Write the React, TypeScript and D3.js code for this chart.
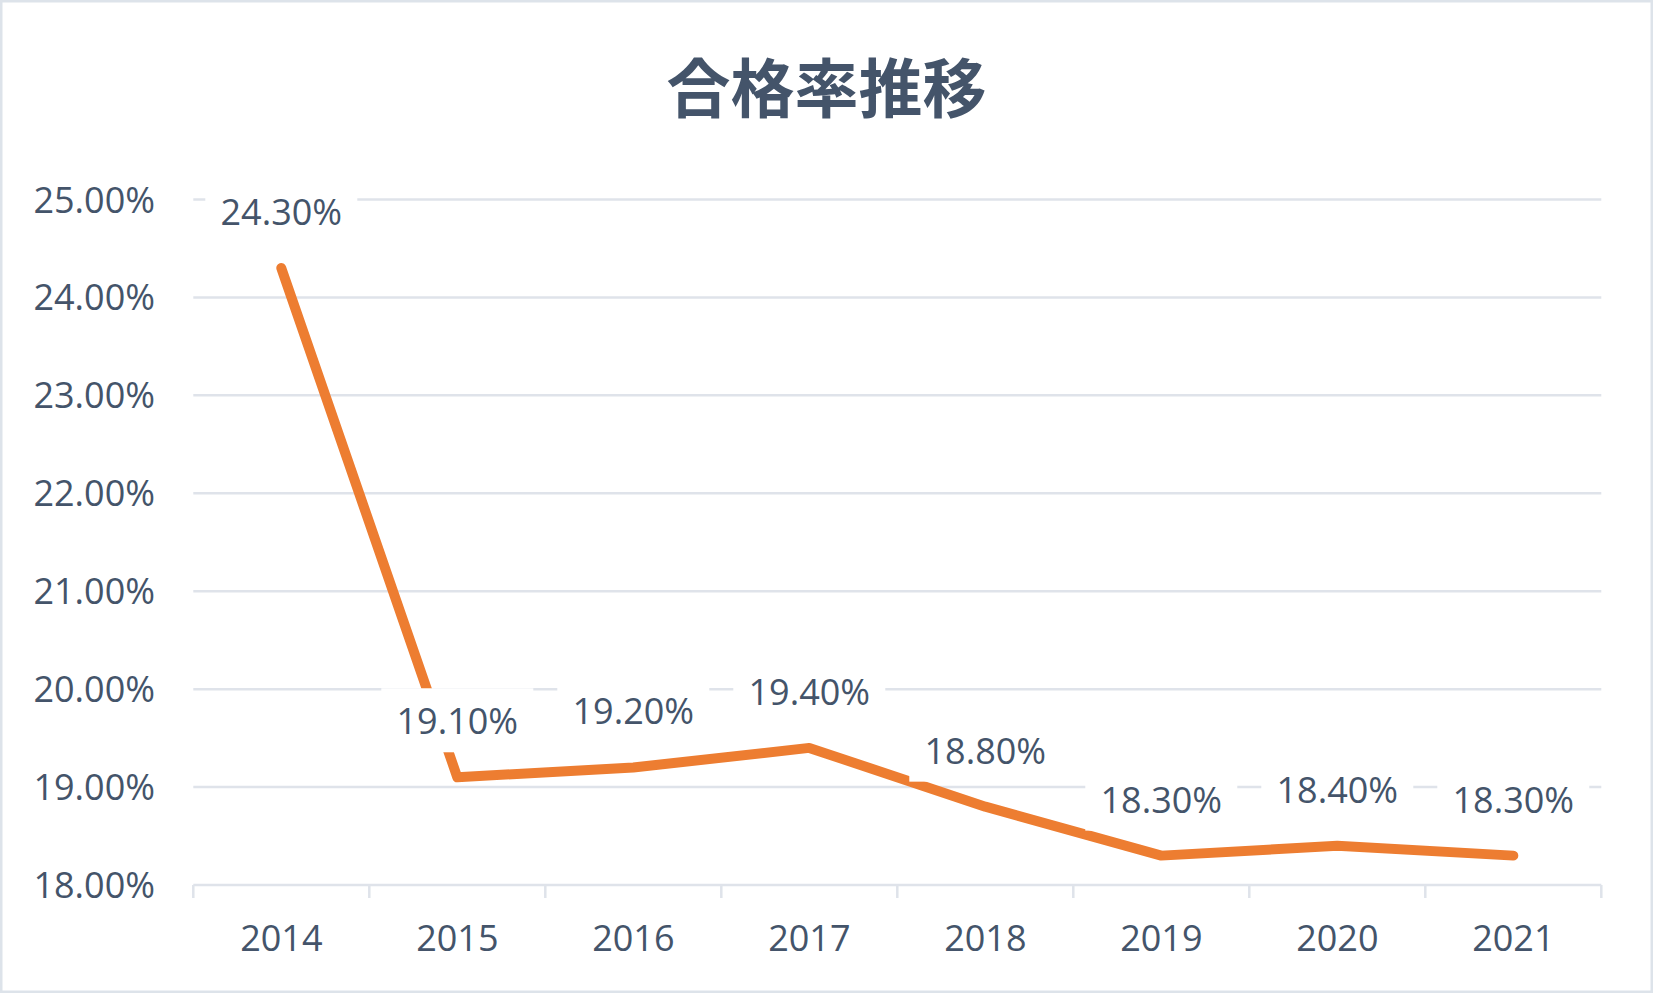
import React from "react";
import * as d3 from "d3";

const TITLE = "合格率推移";
const years = ["2014", "2015", "2016", "2017", "2018", "2019", "2020", "2021"];
const rates = [0.243, 0.191, 0.192, 0.194, 0.188, 0.183, 0.184, 0.183];
const yTicks = [0.18, 0.19, 0.2, 0.21, 0.22, 0.23, 0.24, 0.25];

const W = 1653;
const H = 993;
const TEXT = "#44546a";
const GRID = "#dfe3ea";
const ORANGE = "#ed7d31";
const FONT = "'Open Sans', 'Noto Sans', sans-serif";

export default function App() {
  const x = d3.scaleBand<string>().domain(years).range([193.3, 1601.3]);
  const y = d3.scaleLinear().domain([0.18, 0.25]).range([885, 199.5]);
  const cx = (d: string) => (x(d) as number) + x.bandwidth() / 2;
  const fmt = d3.format(".2%");
  const line = d3
    .line<number>()
    .x((_, i) => cx(years[i]))
    .y((d) => y(d));
  const boundaries = years.map((d) => x(d) as number).concat([x.range()[1]]);

  return (
    <div style={{ position: "absolute", left: 0, top: 0 }}>
      <svg width={W} height={H} style={{ display: "block", background: "#fff" }}>
        <rect x={1.25} y={1.25} width={W - 2.5} height={H - 2.5} fill="#fff" stroke="#dde3ea" strokeWidth={2.5} />
        <text
          x={W / 2}
          y={112}
          textAnchor="middle"
          fontFamily="'Noto Sans CJK JP', sans-serif"
          fontWeight={700}
          fontSize={64}
          fill={TEXT}
        >
          {TITLE}
        </text>
        {yTicks.map((t) => (
          <g key={t}>
            <line x1={x.range()[0]} x2={x.range()[1]} y1={y(t)} y2={y(t)} stroke={GRID} strokeWidth={2.5} />
            <text x={155} y={y(t) + 13} textAnchor="end" fontFamily={FONT} fontSize={36} fill={TEXT}>
              {fmt(t)}
            </text>
          </g>
        ))}
        {boundaries.map((b, i) => (
          <line key={i} x1={b} x2={b} y1={y(0.18)} y2={y(0.18) + 13} stroke={GRID} strokeWidth={2.5} />
        ))}
        {years.map((d) => (
          <text key={d} x={cx(d)} y={951} textAnchor="middle" fontFamily={FONT} fontSize={36} fill={TEXT}>
            {d}
          </text>
        ))}
        <path
          d={line(rates) as string}
          fill="none"
          stroke={ORANGE}
          strokeWidth={10}
          strokeLinecap="round"
          strokeLinejoin="round"
        />
        {rates.map((v, i) => {
          const px = cx(years[i]);
          const c = y(v) - 56;
          return (
            <g key={i}>
              <rect x={px - 76} y={c - 33} width={152} height={64} fill="#fff" />
              <text x={px} y={c + 13} textAnchor="middle" fontFamily={FONT} fontSize={36} fill={TEXT}>
                {fmt(v)}
              </text>
            </g>
          );
        })}
      </svg>
    </div>
  );
}
